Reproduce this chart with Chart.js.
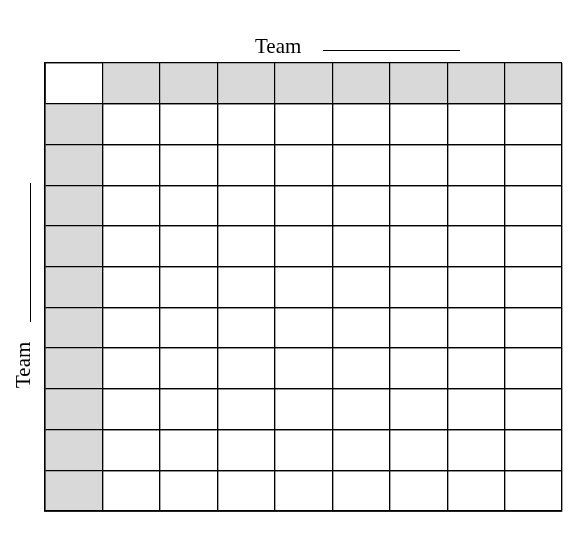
<!DOCTYPE html>
<html>
<head>
<meta charset="utf-8">
<script src="https://cdn.jsdelivr.net/npm/chart.js@4"></script>
<style>
  body { margin: 0; background: #fff; }
  #wrap { width: 580px; height: 550px; }
</style>
</head>
<body>
<div id="wrap"><canvas id="grid"></canvas></div>
<script>
// 9 columns, 11 rows (1 header row + 10 rows)
const columns = ['', '1', '2', '3', '4', '5', '6', '7', '8'];
const rowCount = 11;
// shaded header cells: [from, to] rows for each column
const headerRow = [null, [10, 11], [10, 11], [10, 11], [10, 11], [10, 11], [10, 11], [10, 11], [10, 11]];
const headerCol = [[0, 10], null, null, null, null, null, null, null, null];
const teamLabel = 'Team';

// redraws the grid over the shaded cells, then the "Team ____" labels
const labelsPlugin = {
    id: 'teamLabels',
    afterDatasetsDraw(chart) {
        chart.scales.x.draw(chart.chartArea);
        chart.scales.y.draw(chart.chartArea);
    },
    afterDraw(chart) {
        const ctx = chart.ctx;
        ctx.save();
        ctx.fillStyle = '#000';
        ctx.strokeStyle = '#000';
        ctx.lineWidth = 1;
        ctx.font = '21px "Liberation Serif", serif';
        ctx.textBaseline = 'middle';
        ctx.textAlign = 'left';
        ctx.fillText(teamLabel, 255, 47);
        ctx.beginPath();
        ctx.moveTo(323, 50.5); ctx.lineTo(460, 50.5);
        ctx.stroke();

        ctx.translate(24, 388);
        ctx.rotate(-Math.PI / 2);
        ctx.fillText(teamLabel, 0, 0);
        ctx.restore();
        ctx.beginPath();
        ctx.moveTo(30.5, 183); ctx.lineTo(30.5, 322);
        ctx.stroke();
    }
};

new Chart(document.getElementById('grid'), {
    type: 'bar',
    data: {
        labels: columns,
        datasets: [
            { data: headerRow, backgroundColor: '#d9d9d9', borderWidth: 0, barPercentage: 1, categoryPercentage: 1, grouped: false },
            { data: headerCol, backgroundColor: '#d9d9d9', borderWidth: 0, barPercentage: 1, categoryPercentage: 1, grouped: false }
        ]
    },
    options: {
        responsive: true,
        maintainAspectRatio: false,
        animation: false,
        layout: { padding: { left: 45, top: 63, right: 18, bottom: 39 } },
        plugins: { legend: { display: false }, tooltip: { enabled: false } },
        scales: {
            x: {
                ticks: { display: false },
                grid: { color: '#000', lineWidth: 1.2, drawTicks: false, offset: true },
                border: { color: '#000', width: 1.5 }
            },
            y: {
                min: 0, max: rowCount,
                ticks: { display: false, stepSize: 1 },
                grid: { color: '#000', lineWidth: 1.2, drawTicks: false },
                border: { color: '#000', width: 1.5 }
            }
        }
    },
    plugins: [labelsPlugin]
});
</script>
</body>
</html>
